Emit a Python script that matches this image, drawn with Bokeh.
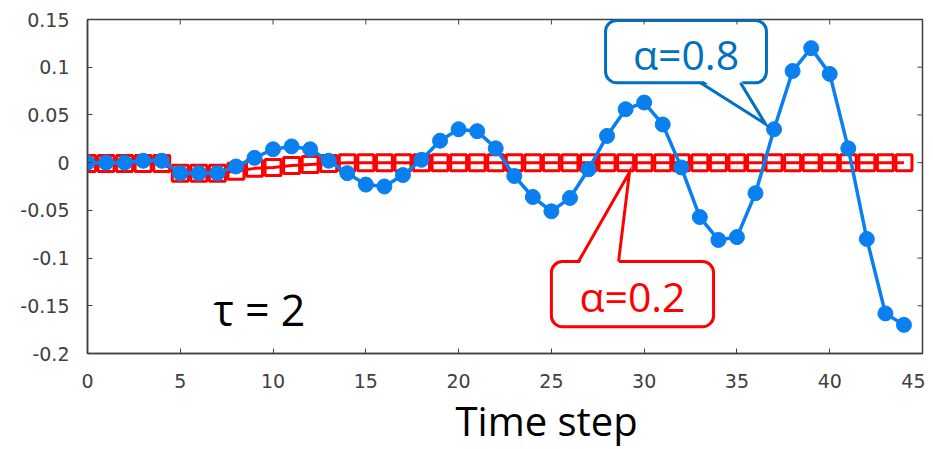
from bokeh.plotting import figure
from bokeh.models import FixedTicker, BoxAnnotation, Label, Range1d, Title
from bokeh.embed import file_html
from bokeh.resources import INLINE

# ---- data ----
steps = list(range(45))
alpha08 = [0.0, 0.0, 0.0, 0.002, 0.002, -0.011, -0.011, -0.011, -0.004, 0.005,
           0.014, 0.017, 0.014, 0.002, -0.011, -0.023, -0.025, -0.013, 0.003, 0.023,
           0.035, 0.033, 0.015, -0.014, -0.036, -0.051, -0.037, -0.007, 0.028, 0.056,
           0.063, 0.040, -0.005, -0.057, -0.081, -0.078, -0.032, 0.035, 0.096, 0.120,
           0.093, 0.015, -0.080, -0.158, -0.170]
alpha02 = [-0.001, -0.001, -0.001, -0.001, -0.001, -0.011, -0.011, -0.011, -0.009, -0.006,
           -0.005, -0.003, -0.002, -0.001] + [0.0] * 31

x_ticks = [0, 5, 10, 15, 20, 25, 30, 35, 40, 45]
y_ticks = [0.15, 0.1, 0.05, 0, -0.05, -0.1, -0.15, -0.2]
y_tick_labels = ["0.15", "0.1", "0.05", "0", "-0.05", "-0.1", "-0.15", "-0.2"]

X_MIN, X_MAX = 0, 45
Y_MIN, Y_MAX = -0.2, 0.15

# ---- annotation geometry (data units) ----
blue_box = dict(left=27.92, right=36.59, top=0.149, bottom=0.0837)
blue_ptr = dict(x0=33.03, x1=35.19, tx=36.54, ty=0.0405)
red_box = dict(left=25.0, right=33.74, top=-0.1037, bottom=-0.172)
red_ptr = dict(x0=26.46, x1=28.62, tx=29.21, ty=-0.010)

BLUE = "#0a80f0"
BLUE_DARK = "#0070c0"
RED = "#ff0000"
AX = "#404040"
FONT_TICK = "DejaVu Sans"
FONT_BIG = "Open Sans"

FRAME_W, FRAME_H = 835, 334
p = figure(width=925, height=449, output_backend="svg", toolbar_location=None,
           x_range=Range1d(X_MIN, X_MAX), y_range=Range1d(Y_MIN, Y_MAX),
           min_border_left=87, min_border_right=3, min_border_top=19, min_border_bottom=96)
p.grid.visible = False
p.outline_line_color = AX
p.outline_line_width = 1.5
p.background_fill_color = "white"
p.border_fill_color = "white"

for ax in (p.xaxis[0], p.yaxis[0]):
    ax.major_tick_in = 5
    ax.major_tick_out = 0
    ax.minor_tick_line_color = None
    ax.axis_line_color = AX
    ax.axis_line_width = 1.5
    ax.major_tick_line_color = AX
    ax.major_label_text_font = FONT_TICK
    ax.major_label_text_font_size = "19px"
    ax.major_label_text_color = AX

p.xaxis.ticker = FixedTicker(ticks=x_ticks)
p.xaxis.major_label_standoff = 20

p.yaxis.ticker = FixedTicker(ticks=y_ticks)
p.yaxis.major_label_overrides = {t: l for t, l in zip(y_ticks, y_tick_labels)}
p.yaxis.major_label_standoff = 18

# x axis title, offset to the right as in the reference
p.add_layout(Title(text="Time step", align="left", offset=368, standoff=0,
                   text_font=FONT_BIG, text_font_size="40px", text_font_style="normal",
                   text_color="black"), "below")

# mirrored ticks on top and right edges of the frame
dy = 5 * (Y_MAX - Y_MIN) / FRAME_H
dx = 5 * (X_MAX - X_MIN) / FRAME_W
p.segment(x0=x_ticks, x1=x_ticks, y0=[Y_MAX] * len(x_ticks), y1=[Y_MAX - dy] * len(x_ticks),
          line_color=AX, line_width=1)
p.segment(x0=[X_MAX] * len(y_ticks), x1=[X_MAX - dx] * len(y_ticks), y0=y_ticks, y1=y_ticks,
          line_color=AX, line_width=1)

# callout boxes
for box, col in ((blue_box, BLUE_DARK), (red_box, RED)):
    p.add_layout(BoxAnnotation(left=box["left"], right=box["right"], top=box["top"],
                               bottom=box["bottom"], fill_color="white", fill_alpha=1,
                               line_color=col, line_alpha=1, line_width=3, border_radius=11,
                               level="underlay"))

# series
p.line(steps, alpha02, line_color=RED, line_width=3)
p.scatter(steps, alpha02, marker="square", size=16, fill_color=None,
          line_color=RED, line_width=3)
p.line(steps, alpha08, line_color=BLUE, line_width=3.5)
p.scatter(steps, alpha08, marker="circle", size=15, fill_color=BLUE, line_color=BLUE)

# pointers
inset_b = 4 * (Y_MAX - Y_MIN) / FRAME_H
p.patch([blue_ptr["x0"], blue_ptr["tx"], blue_ptr["x1"]],
        [blue_box["bottom"] + inset_b, blue_ptr["ty"], blue_box["bottom"] + inset_b],
        fill_color="white", line_color=None)
p.line([blue_ptr["x0"], blue_ptr["tx"], blue_ptr["x1"]],
       [blue_box["bottom"], blue_ptr["ty"], blue_box["bottom"]],
       line_color=BLUE_DARK, line_width=3, line_join="miter")
p.patch([red_ptr["x0"], red_ptr["tx"], red_ptr["x1"]],
        [red_box["top"] - inset_b, red_ptr["ty"], red_box["top"] - inset_b],
        fill_color="white", line_color=None)
p.line([red_ptr["x0"], red_ptr["tx"], red_ptr["x1"]],
       [red_box["top"], red_ptr["ty"], red_box["top"]],
       line_color=RED, line_width=3, line_join="miter")

# texts
p.add_layout(Label(x=(blue_box["left"] + blue_box["right"]) / 2, y=0.1137, text="α=0.8",
                   text_font=FONT_BIG, text_font_size="41px", text_color=BLUE_DARK,
                   text_align="center", text_baseline="middle"))
p.add_layout(Label(x=(red_box["left"] + red_box["right"]) / 2, y=-0.1395, text="α=0.2",
                   text_font=FONT_BIG, text_font_size="41px", text_color=RED,
                   text_align="center", text_baseline="middle"))
p.add_layout(Label(x=9.27, y=-0.154, text="τ = 2",
                   text_font=FONT_BIG, text_font_size="43px", text_color="black",
                   text_align="center", text_baseline="middle"))

open("out.html", "w").write(file_html(p, INLINE))
